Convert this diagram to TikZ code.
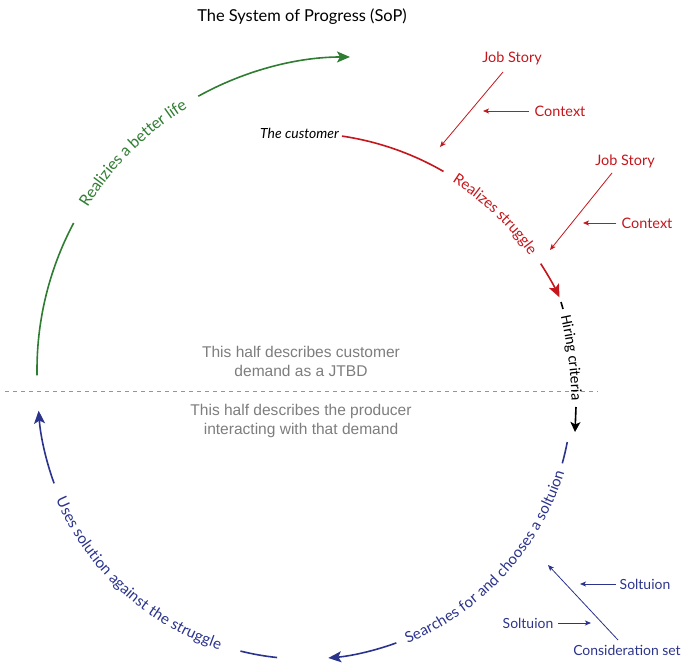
\documentclass[tikz,border=0pt]{standalone}
\usepackage{fontspec}
\setmainfont{Lato}
\newfontfamily\grayfont{Liberation Sans}
\newfontfamily\hirefont{Carlito}
\usetikzlibrary{arrows.meta,decorations.text}
\definecolor{sopgreen}{RGB}{47,125,50}
\definecolor{sopred}{RGB}{196,22,28}
\definecolor{sopblue}{RGB}{43,52,140}
\definecolor{sopgray}{RGB}{125,125,125}
\definecolor{dashgray}{RGB}{150,150,150}
\newcommand\sopArcFont[1]{\fontsize{#1}{18}\selectfont}
\begin{document}
\begin{tikzpicture}[x=1bp,y=1bp,
  arcline/.style={line width=1.6bp},
  bigtip/.style={-{Stealth[length=13bp,width=11bp,inset=3bp]}},
  smalltip/.style={line width=0.8bp,-{Stealth[length=6bp,width=5bp,inset=1.5bp]}},
  lbl/.style={font=\fontsize{14}{16}\selectfont, inner sep=0pt},
  graytxt/.style={font=\grayfont\fontsize{15.6}{19}\selectfont, text=sopgray, align=center, inner sep=0pt},
  arctext/.style={decorate, decoration={text along path, text align=center, raise=-4.5pt, text={#1}}},
]
\useasboundingbox (0,0) rectangle (686,667);

% centres of the arcs
\coordinate (gc) at (350,297);
\coordinate (rc) at (300,247);
\coordinate (bc) at (305,275);

% title
\node[font=\fontsize{16.5}{19}\selectfont, inner sep=0pt] (title) at (302,650) {The System of Progress (SoP)};

% divider and half captions
\coordinate (dl) at (5,276);
\coordinate (dr) at (598,276);
\draw[dashgray, line width=0.9bp, dash pattern=on 4bp off 4bp] (dl) -- (dr);
\node[graytxt] (tophalf) at (301,306) {This half describes customer\\demand as a JTBD};
\node[graytxt] (bothalf) at (301,246) {This half describes the producer\\interacting with that demand};

% green arc
\draw[sopgreen, arcline] ([shift={(181:313bp)}]gc) arc[start angle=181, end angle=152, radius=313bp];
\path[arctext={|\sopArcFont{16}\color{sopgreen}|Realizies a better life}]
  ([shift={(151:313bp)}]gc) arc[start angle=151, end angle=119, radius=313bp];
\draw[sopgreen, arcline, bigtip] ([shift={(119:313bp)}]gc) arc[start angle=119, end angle=90, radius=313bp];

% red arc
\node[lbl, font=\fontsize{14}{16}\selectfont\itshape, anchor=east] (cust) at (339,534) {The customer};
\draw[sopred, arcline] ([shift={(81.6:287bp)}]rc) arc[start angle=81.6, end angle=60, radius=287bp];
\path[arctext={|\sopArcFont{15}\color{sopred}|Realizes struggle}]
  ([shift={(60:287bp)}]rc) arc[start angle=60, end angle=33, radius=287bp];
\draw[sopred, arcline, bigtip] ([shift={(33:287bp)}]rc) arc[start angle=33, end angle=25.3, radius=287bp];

% hiring criteria (black)
\coordinate (h0) at (561,365);
\coordinate (h1) at (563,358);
\draw[black, arcline] (h0) -- (h1);
\path[arctext={|\hirefont\fontsize{15.5}{17}\selectfont|Hiring criteria}]
  (564,357) .. controls (571,326) and (576,296) .. (576,261);
\coordinate (h2) at (576,260);
\coordinate (h3) at (575,235);
\draw[black, arcline, -{Stealth[length=10bp,width=10bp,inset=2.5bp]}] (h2) -- (h3);

% blue arc, right part
\draw[sopblue, arcline] ([shift={(-10.8:267bp)}]bc) arc[start angle=-10.8, end angle=-15.5, radius=267bp];
\path[arctext={|\sopArcFont{15.1}\color{sopblue}|Searches for and chooses a soltuion}]
  ([shift={(-71:267bp)}]bc) arc[start angle=-71, end angle=-14, radius=267bp];
\draw[sopblue, arcline, bigtip] ([shift={(-70:267bp)}]bc) arc[start angle=-70, end angle=-85, radius=267bp];

% blue arc, left part
\draw[sopblue, arcline] ([shift={(-96:267bp)}]bc) arc[start angle=-96, end angle=-104, radius=267bp];
\path[arctext={|\sopArcFont{15.3}\color{sopblue}|Uses solution against the struggle}]
  ([shift={(-161:267bp)}]bc) arc[start angle=-161, end angle=-104, radius=267bp];
\draw[sopblue, arcline, bigtip] ([shift={(-160:267bp)}]bc) arc[start angle=-160, end angle=-176, radius=267bp];

% red job stories and contexts
\node[lbl, text=sopred, font=\fontsize{14.5}{16}\selectfont] (js1) at (512,609) {Job Story};
\node[lbl, text=sopred, font=\fontsize{14.5}{16}\selectfont] (ctx1) at (560,556) {Context};
\node[lbl, text=sopred, font=\fontsize{14.5}{16}\selectfont] (js2) at (625,506) {Job Story};
\node[lbl, text=sopred, font=\fontsize{14.5}{16}\selectfont] (ctx2) at (647,444) {Context};
\coordinate (js1t) at (440,520);
\coordinate (ctx1t) at (483,556);
\coordinate (js2t) at (550,417);
\coordinate (ctx2t) at (583,444);
\draw[sopred, smalltip] (503,595) -- (js1t);
\draw[sopred, smalltip] (ctx1.west) ++(-5,0) -- (ctx1t);
\draw[sopred, smalltip] (612,494) -- (js2t);
\draw[sopred, smalltip] (ctx2.west) ++(-5,0) -- (ctx2t);

% blue solutions
\node[lbl, text=sopblue] (sol1) at (645,83) {Soltuion};
\node[lbl, text=sopblue] (sol2) at (528,44) {Soltuion};
\node[lbl, text=sopblue] (cons) at (627,17) {Consideration set};
\coordinate (sol1t) at (580,83);
\coordinate (sol2t) at (591,44);
\coordinate (const) at (548,102);
\draw[sopblue, smalltip] (sol1.west) ++(-4,0) -- (sol1t);
\draw[sopblue, smalltip] (sol2.east) ++(5,0) -- (sol2t);
\draw[sopblue, smalltip] (618,27) -- (const);
\end{tikzpicture}
\end{document}
